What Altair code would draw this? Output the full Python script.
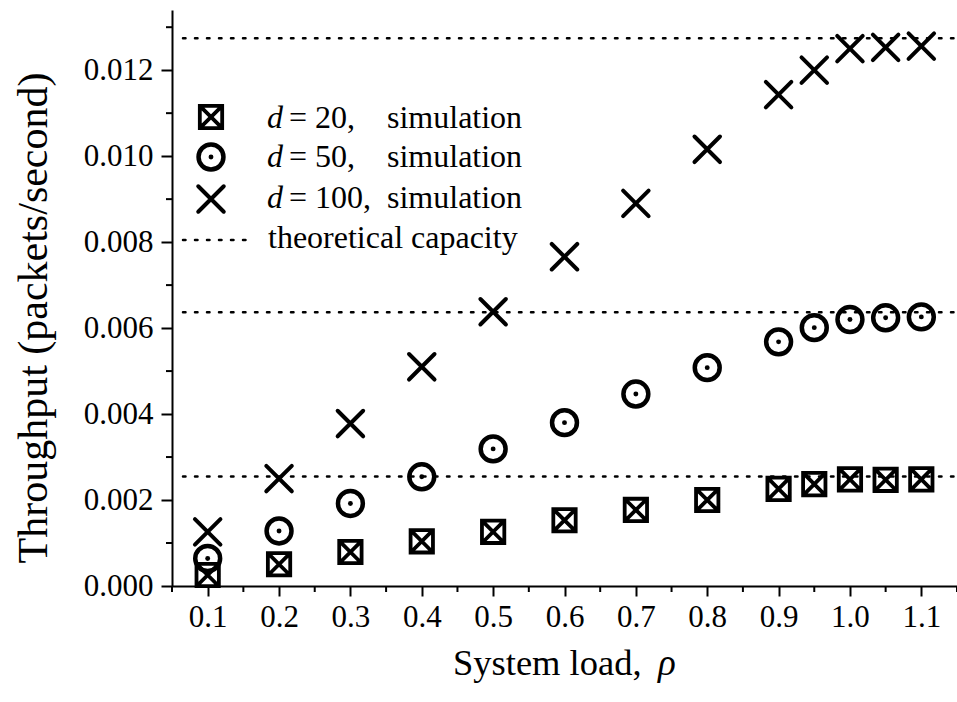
import altair as alt
import pandas as pd

# ---------------- data ----------------
rho = [0.1, 0.2, 0.3, 0.4, 0.5, 0.6, 0.7, 0.8, 0.9, 0.95, 1.0, 1.05, 1.1]
thr_d20 = [0.000255, 0.000505, 0.00079, 0.00104, 0.00126, 0.00153, 0.00177,
           0.00200, 0.00226, 0.00237, 0.00248, 0.00247, 0.00248]
thr_d50 = [0.00064, 0.00128, 0.00192, 0.00254, 0.00319, 0.00380, 0.004465,
           0.00508, 0.00568, 0.00601, 0.00620, 0.00624, 0.00626]
thr_d100 = [0.00126, 0.00250, 0.00378, 0.00510, 0.00638, 0.00766, 0.00890,
            0.01016, 0.01143, 0.01200, 0.01250, 0.01253, 0.01256]
capacity = [0.002548, 0.00637, 0.01274]

x_major = [0.1, 0.2, 0.3, 0.4, 0.5, 0.6, 0.7, 0.8, 0.9, 1.0, 1.1]
x_minor = [0.05, 0.15, 0.25, 0.35, 0.45, 0.55, 0.65, 0.75, 0.85, 0.95, 1.05, 1.15]
y_major = [0.000, 0.002, 0.004, 0.006, 0.008, 0.010, 0.012]
y_minor = [0.001, 0.003, 0.005, 0.007, 0.009, 0.011, 0.013]

legend_d = ["= 20,", "= 50,", "= 100,"]

# ---------------- styling ----------------
W, H = 785, 576
FONT = "Liberation Serif"
BLACK = "#000000"

x_scale = alt.Scale(domain=[0.05, 1.15], nice=False, zero=False)
y_scale = alt.Scale(domain=[0.0, 0.0134], nice=False, zero=True)

BOX_X = "M-1,-1L1,-1L1,1L-1,1Z M-1,-1L1,1 M1,-1L-1,1"
X_SHAPE = "M-1,-1L1,1 M1,-1L-1,1"

one = pd.DataFrame({"v": [0]})

df20 = pd.DataFrame({"rho": rho, "thr": thr_d20})
df50 = pd.DataFrame({"rho": rho, "thr": thr_d50})
df100 = pd.DataFrame({"rho": rho, "thr": thr_d100})
dfcap = pd.DataFrame({"thr": capacity})
dfxmin = pd.DataFrame({"rho": x_minor})
dfymin = pd.DataFrame({"thr": y_minor})

x_axis = alt.Axis(values=x_major, format=".1f", tickSize=10, tickWidth=2,
                  domainWidth=2, labelFont=FONT, labelFontSize=31,
                  labelPadding=6, title=None, grid=False,
                  domainColor=BLACK, tickColor=BLACK, labelColor=BLACK)
y_axis = alt.Axis(values=y_major, format=".3f", tickSize=11, tickWidth=2,
                  domainWidth=2, labelFont=FONT, labelFontSize=31,
                  labelPadding=8, title=None, grid=False,
                  domainColor=BLACK, tickColor=BLACK, labelColor=BLACK)

base_x = alt.X("rho:Q", scale=x_scale, axis=x_axis)
base_y = alt.Y("thr:Q", scale=y_scale, axis=y_axis)

SQ = dict(shape=BOX_X, size=500, filled=False, color=BLACK, strokeWidth=3.8, opacity=1)
CI = dict(shape="circle", size=620, filled=False, color=BLACK, strokeWidth=4.5, opacity=1)
DOT = dict(shape="circle", size=24, filled=True, color=BLACK, opacity=1)
XX = dict(shape=X_SHAPE, size=650, filled=False, color=BLACK, strokeWidth=4,
          strokeCap="round", opacity=1)
DOTTED = dict(color=BLACK, strokeWidth=2.5, strokeDash=[2.5, 9.5], strokeCap="round")

# series (first layer carries the axes)
s20 = alt.Chart(df20).mark_point(**SQ).encode(x=base_x, y=base_y)
s50a = alt.Chart(df50).mark_point(**CI).encode(x=base_x, y=base_y)
s50b = alt.Chart(df50).mark_point(**DOT).encode(x=base_x, y=base_y)
s100 = alt.Chart(df100).mark_point(**XX).encode(x=base_x, y=base_y)

# capacity lines
cap_lines = alt.Chart(dfcap).mark_rule(**DOTTED).encode(
    y=base_y, x=alt.value(11), x2=alt.value(W))

# minor ticks
xminor = alt.Chart(dfxmin).mark_rule(color=BLACK, strokeWidth=2).encode(
    x=base_x, y=alt.value(H), y2=alt.value(H + 6))
yminor = alt.Chart(dfymin).mark_rule(color=BLACK, strokeWidth=2).encode(
    y=base_y, x=alt.value(-6), x2=alt.value(0))

# legend (custom, placed in pixels)
LX_SYM = 39
rows_sym = [107, 147, 189]
rows_txt = [118, 157, 198]
leg = [
    alt.Chart(one).mark_point(**SQ).encode(x=alt.value(LX_SYM), y=alt.value(rows_sym[0])),
    alt.Chart(one).mark_point(**CI).encode(x=alt.value(LX_SYM), y=alt.value(rows_sym[1])),
    alt.Chart(one).mark_point(**DOT).encode(x=alt.value(LX_SYM), y=alt.value(rows_sym[1])),
    alt.Chart(one).mark_point(**XX).encode(x=alt.value(LX_SYM), y=alt.value(rows_sym[2])),
    alt.Chart(one).mark_rule(**DOTTED).encode(x=alt.value(11), x2=alt.value(76), y=alt.value(230)),
]


def txt(s, x, y, size=32, style="normal", align="left", angle=0):
    return alt.Chart(one).mark_text(
        text=s, font=FONT, fontSize=size, fontStyle=style, align=align,
        baseline="alphabetic", color=BLACK, angle=angle
    ).encode(x=alt.value(x), y=alt.value(y))


for i, lab in enumerate(legend_d):
    leg.append(txt("d", 95, rows_txt[i], style="italic"))
    leg.append(txt(lab, 117, rows_txt[i]))
    leg.append(txt("simulation", 215, rows_txt[i]))
leg.append(txt("theoretical capacity", 96, 238))

# axis titles
titles = [
    txt("System load,", 281, 665, size=36.5),
    txt("ρ", 486, 665, size=37, style="italic"),
    txt("Throughput (packets/second)", -125, 308, size=42, align="center", angle=270),
]

chart = alt.layer(
    s20, s50a, s50b, s100, cap_lines, xminor, yminor, *leg, *titles
).properties(
    width=W, height=H,
    padding={"left": 172, "top": 10, "right": 0, "bottom": 116},
    autosize=alt.AutoSizeParams(type="none"),
    background="white",
).configure_view(stroke=None)

chart.save("out.html", embed_options={"renderer": "svg", "actions": False})
